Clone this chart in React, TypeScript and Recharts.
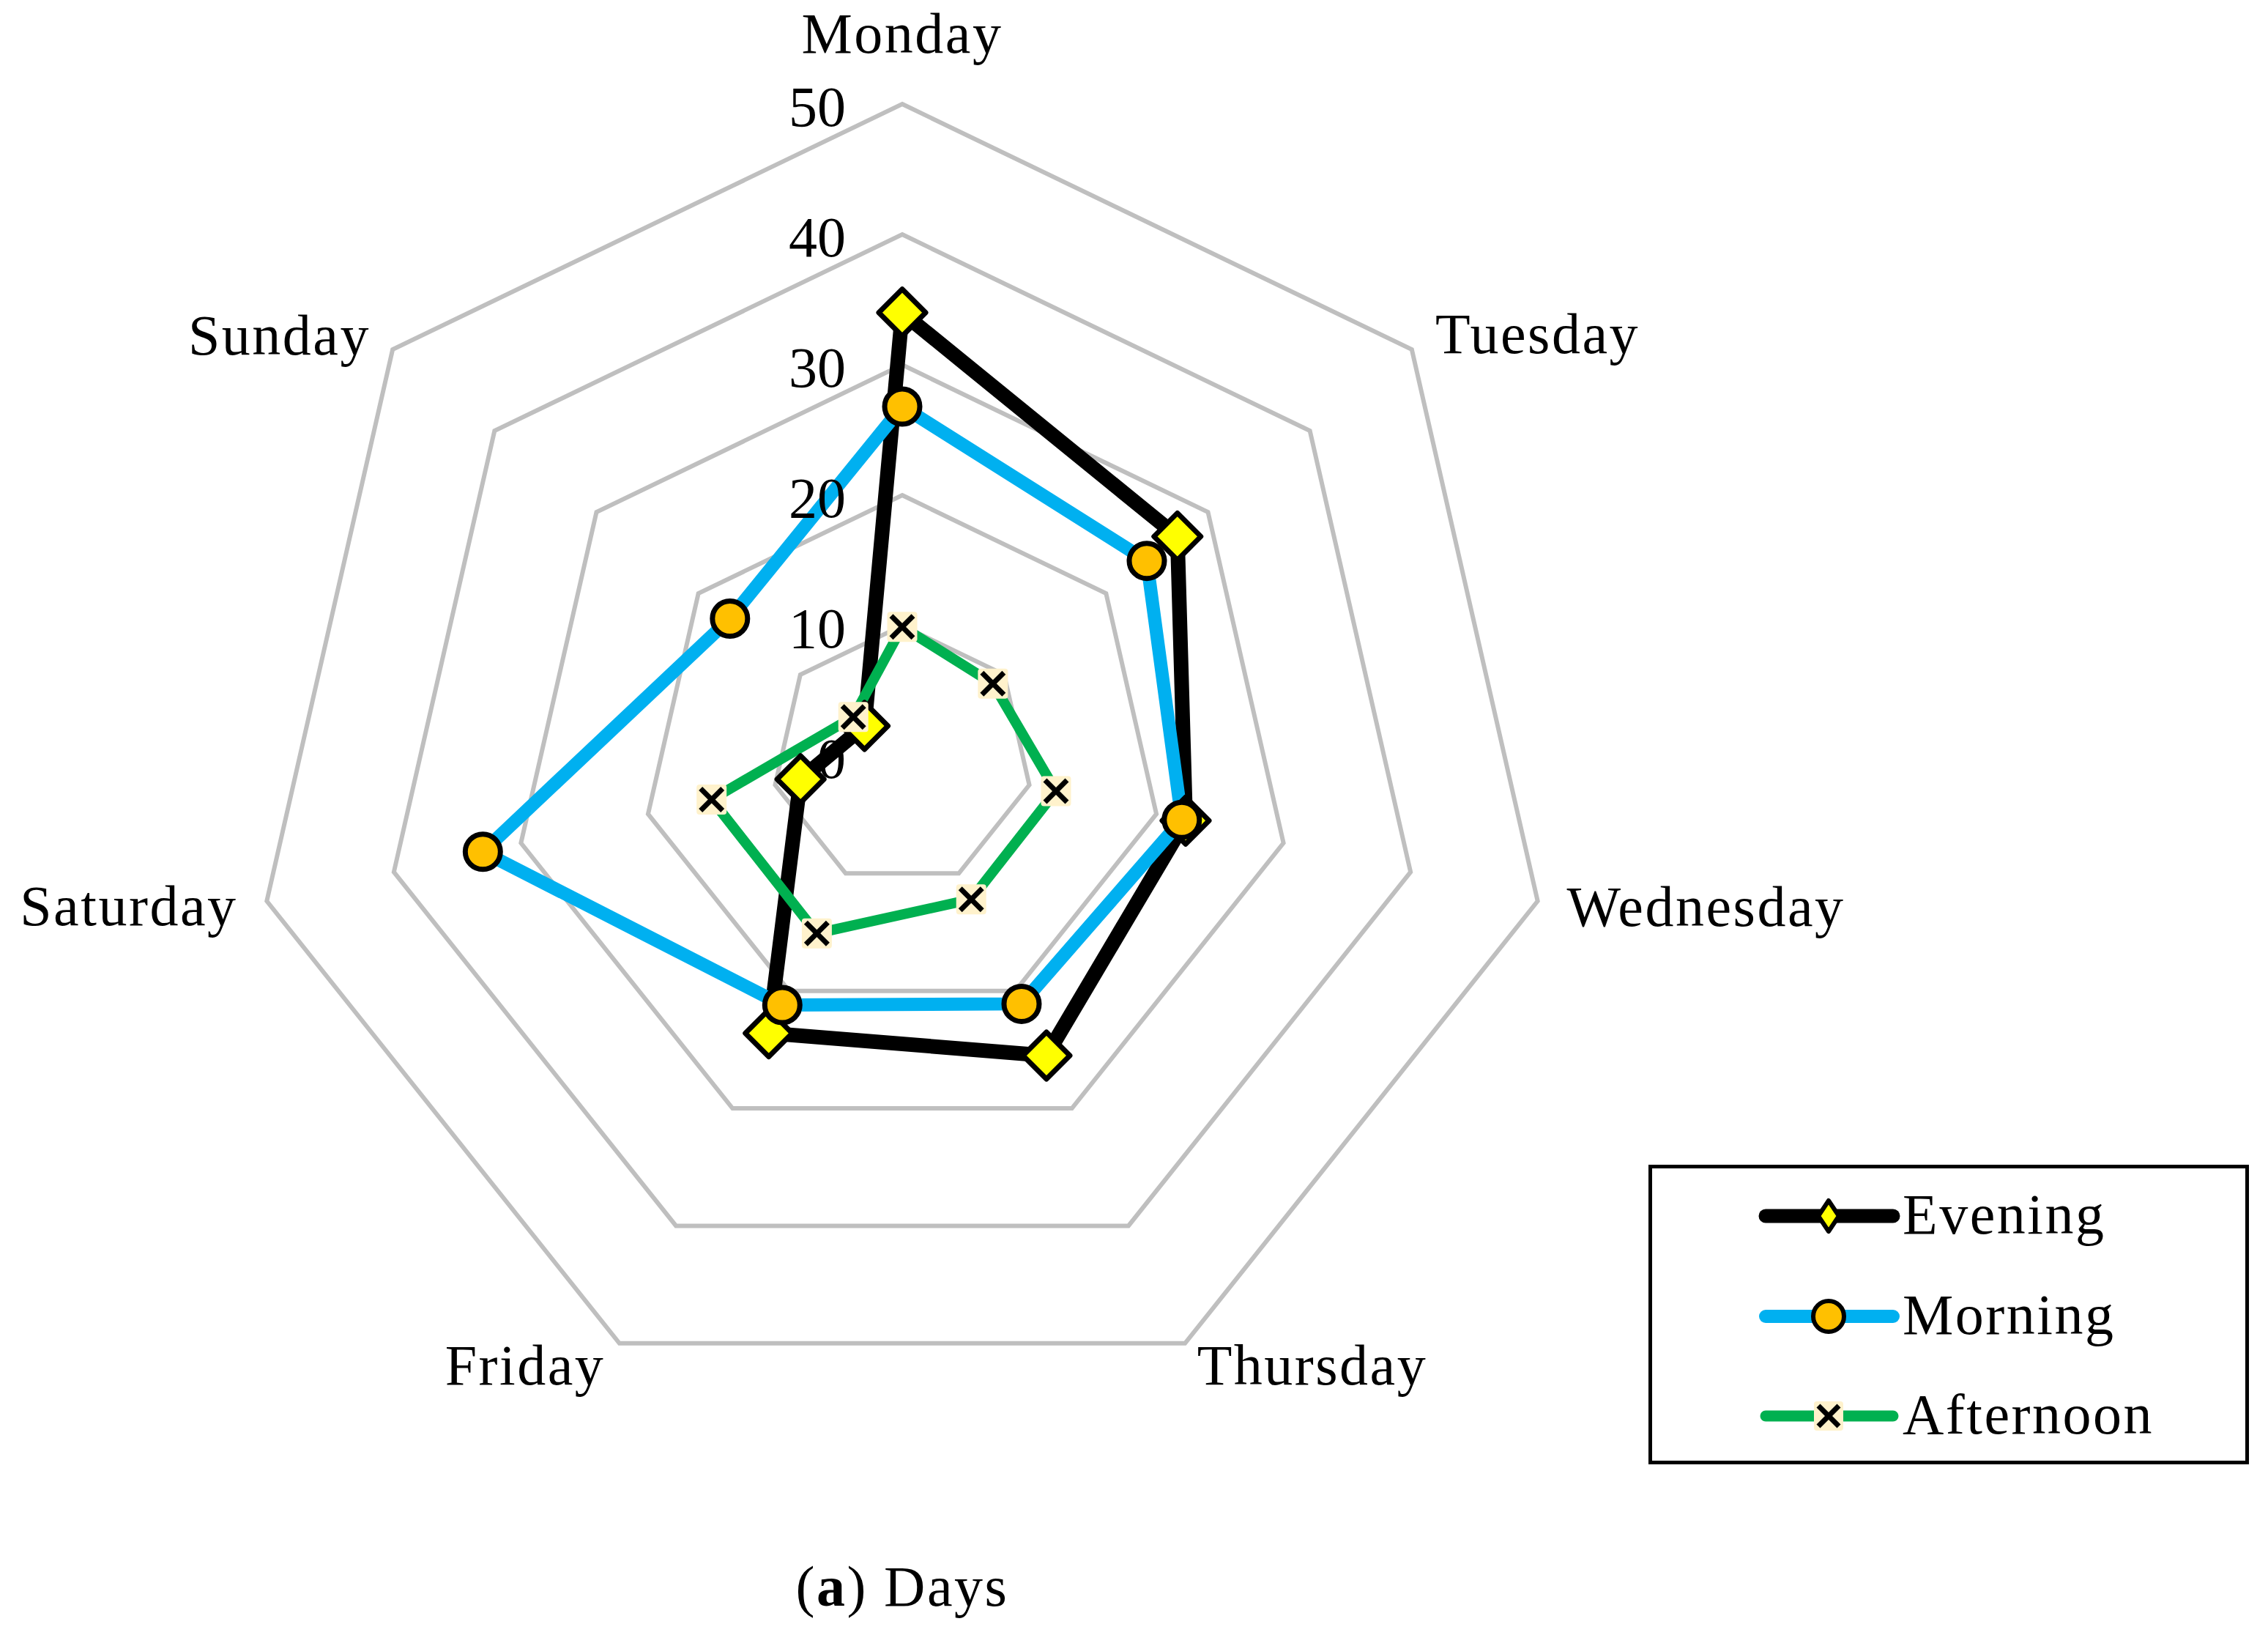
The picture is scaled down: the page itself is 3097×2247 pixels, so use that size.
import { RadarChart, Radar, PolarGrid, PolarAngleAxis, PolarRadiusAxis, Legend } from 'recharts';

// values (scale 0..50)
const DAYS = ['Monday', 'Tuesday', 'Wednesday', 'Thursday', 'Friday', 'Saturday', 'Sunday'];
const EVENING = [34, 27, 22.3, 25.5, 23.6, 8, 3.7];
const MORNING = [26.8, 24, 22, 21.1, 21.2, 33, 16.9];
const AFTERNOON = [9.9, 8.9, 12.1, 12.2, 15.1, 15, 4.8];
const RADIUS_TICKS = [0, 10, 20, 30, 40, 50];
const CAPTION_TAG = 'a';
const CAPTION_TEXT = 'Days';

const FONT = '"Liberation Serif", "Times New Roman", serif';
const SPACING = 2.5;

const data = DAYS.map((day, i) => ({
  day,
  Evening: EVENING[i],
  Morning: MORNING[i],
  Afternoon: AFTERNOON[i],
}));

// where Excel put the category labels, relative to the tick point
const DAY_LABEL_POS: Record<string, { dx: number; dy: number; anchor: 'start' | 'middle' | 'end' }> = {
  Monday: { dx: 0, dy: -62, anchor: 'middle' },
  Tuesday: { dx: 26, dy: 10, anchor: 'start' },
  Wednesday: { dx: 32, dy: 32, anchor: 'start' },
  Thursday: { dx: 13, dy: 49, anchor: 'start' },
  Friday: { dx: -16, dy: 49, anchor: 'end' },
  Saturday: { dx: -32, dy: 31, anchor: 'end' },
  Sunday: { dx: -24, dy: 12, anchor: 'end' },
};

function DayTick(props: any) {
  const { x, y, payload } = props;
  const pos = DAY_LABEL_POS[payload.value] || { dx: 0, dy: 0, anchor: 'middle' };
  return (
    <text
      x={x + pos.dx}
      y={y + pos.dy}
      textAnchor={pos.anchor}
      fontFamily={FONT}
      fontSize={78}
      letterSpacing={SPACING}
      fill="#000"
    >
      {payload.value}
    </text>
  );
}

function RadiusTick(props: any) {
  const { x, y, payload } = props;
  return (
    <text x={x - 77} y={y + 30} textAnchor="end" fontFamily={FONT} fontSize={78} fill="#000">
      {payload.value}
    </text>
  );
}

function diamond(cx: number, cy: number, hw: number, hh: number, sw: number, key?: string) {
  return (
    <polygon
      key={key}
      points={`${cx},${cy - hh} ${cx + hw},${cy} ${cx},${cy + hh} ${cx - hw},${cy}`}
      fill="#FFFF00"
      stroke="#000"
      strokeWidth={sw}
      strokeLinejoin="round"
    />
  );
}

function circle(cx: number, cy: number, r: number, sw: number, key?: string) {
  return <circle key={key} cx={cx} cy={cy} r={r} fill="#FFC000" stroke="#000" strokeWidth={sw} />;
}

function cross(cx: number, cy: number, half: number, box: number, sw: number, key?: string) {
  return (
    <g key={key}>
      <rect x={cx - box / 2} y={cy - box / 2} width={box} height={box} rx={4} fill="#FFF2CC" />
      <line x1={cx - half} y1={cy - half} x2={cx + half} y2={cy + half} stroke="#000" strokeWidth={sw} />
      <line x1={cx - half} y1={cy + half} x2={cx + half} y2={cy - half} stroke="#000" strokeWidth={sw} />
    </g>
  );
}

const EveningDot = (p: any) => diamond(p.cx, p.cy, 32, 32, 7, `e-${p.cx}-${p.cy}`);
const MorningDot = (p: any) => circle(p.cx, p.cy, 24, 7, `m-${p.cx}-${p.cy}`);
const AfternoonDot = (p: any) => cross(p.cx, p.cy, 15, 41, 7, `a-${p.cx}-${p.cy}`);

const SERIES = [
  { name: 'Evening', color: '#000000', width: 19 },
  { name: 'Morning', color: '#00B0F0', width: 18 },
  { name: 'Afternoon', color: '#00B050', width: 15 },
];

function LegendBox() {
  const rows = [70, 207, 343];
  return (
    <svg width={820} height={409}>
      <rect x={2.5} y={2.5} width={815} height={404} fill="#fff" stroke="#000" strokeWidth={5} />
      {SERIES.map((s, i) => {
        const y = rows[i];
        return (
          <g key={s.name}>
            <line x1={160} y1={y} x2={334} y2={y} stroke={s.color} strokeWidth={s.width} strokeLinecap="round" />
            {i === 0 && diamond(246, y, 14, 21, 6)}
            {i === 1 && circle(246, y, 21, 6)}
            {i === 2 && cross(246, y, 14, 40, 7)}
            <text x={347} y={y + 24} fontFamily={FONT} fontSize={78} letterSpacing={SPACING} fill="#000">
              {s.name}
            </text>
          </g>
        );
      })}
    </svg>
  );
}

export default function App() {
  return (
    <div style={{ position: 'relative', width: 3097, height: 2247, background: '#fff' }}>
      <style>{'body{margin:0} .recharts-polar-grid-concentric path, .recharts-polar-grid-concentric-polygon{stroke-width:6px}'}</style>
      <RadarChart width={3097} height={2247} data={data} cx={1232} cy={1032} outerRadius={890}>
        <PolarGrid gridType="polygon" radialLines={false} stroke="#BFBFBF" strokeWidth={6} />
        <PolarAngleAxis dataKey="day" tick={DayTick} tickLine={false} axisLine={false} />
        <PolarRadiusAxis
          angle={90}
          domain={[0, 50]}
          ticks={RADIUS_TICKS as any}
          tickCount={6}
          axisLine={false}
          tickLine={false}
          tick={RadiusTick}
        />
        <Radar
          name="Evening"
          dataKey="Evening"
          stroke="#000000"
          strokeWidth={20}
          fill="none"
          fillOpacity={0}
          dot={EveningDot}
          isAnimationActive={false}
        />
        <Radar
          name="Morning"
          dataKey="Morning"
          stroke="#00B0F0"
          strokeWidth={18}
          fill="none"
          fillOpacity={0}
          dot={MorningDot}
          isAnimationActive={false}
        />
        <Radar
          name="Afternoon"
          dataKey="Afternoon"
          stroke="#00B050"
          strokeWidth={14}
          fill="none"
          fillOpacity={0}
          dot={AfternoonDot}
          isAnimationActive={false}
        />
        <Legend
          content={() => <LegendBox />}
          wrapperStyle={{ position: 'absolute', left: 2251, top: 1590, width: 820, height: 409 }}
        />
      </RadarChart>
      <div
        style={{
          position: 'absolute',
          left: 0,
          width: 2464,
          top: 2127,
          textAlign: 'center',
          fontFamily: FONT,
          fontSize: 78,
          lineHeight: '78px',
          letterSpacing: SPACING,
          color: '#000',
        }}
      >
        (<b>{CAPTION_TAG}</b>) {CAPTION_TEXT}
      </div>
    </div>
  );
}
